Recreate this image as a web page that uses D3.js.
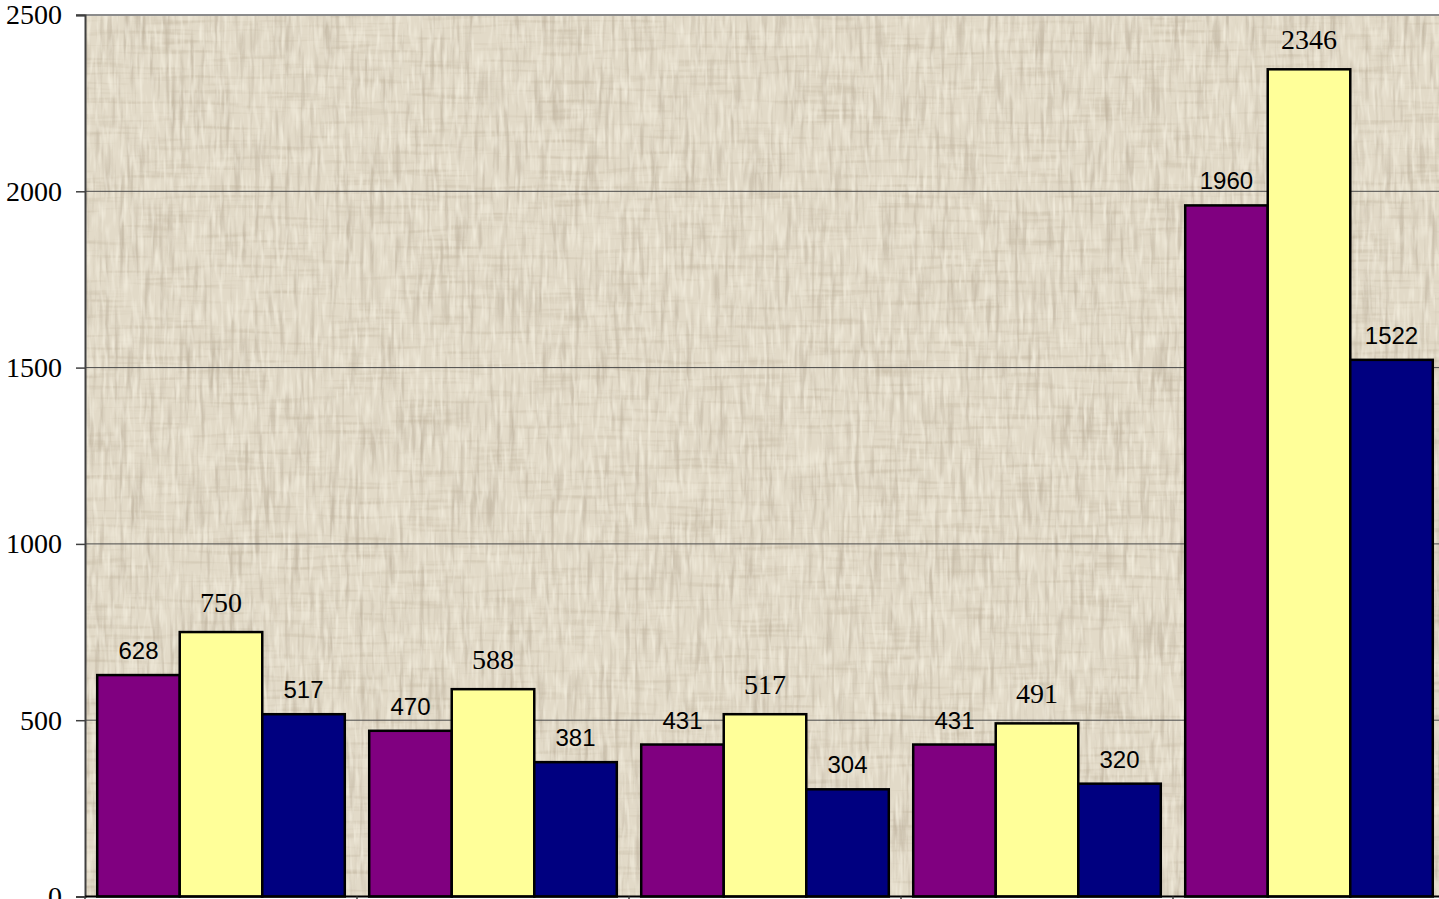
<!DOCTYPE html>
<html>
<head>
<meta charset="utf-8">
<script src="https://cdn.jsdelivr.net/npm/d3@7"></script>
<style>
  html, body { margin: 0; padding: 0; background: #ffffff; overflow: hidden; }
  svg { display: block; }
  .serif { font-family: "Liberation Serif", "Times New Roman", Times, serif; }
  .sans { font-family: "Liberation Sans", Arial, Helvetica, sans-serif; }
</style>
</head>
<body>
<svg id="chart" width="1439" height="899"></svg>
<script>
// Five groups, three series per group
const categories = ["A", "B", "C", "D", "E"];
const seriesPurple = [628, 470, 431, 431, 1960];
const seriesYellow = [750, 588, 517, 491, 2346];
const seriesNavy   = [517, 381, 304, 320, 1522];
const yTicks = [0, 500, 1000, 1500, 2000, 2500];

const series = [
  { key: "purple", values: seriesPurple, color: "#800080", cls: "sans",  size: 24, gap: 16 },
  { key: "yellow", values: seriesYellow, color: "#FFFF99", cls: "serif", size: 28, gap: 20 },
  { key: "navy",   values: seriesNavy,   color: "#000080", cls: "sans",  size: 24, gap: 16 }
];

const svg = d3.select("#chart");
const margin = { left: 85, top: 15 };
const plotW = 1360, plotH = 881.5;

const defs = svg.append("defs");
// Woven canvas texture for the plot background: vertical and horizontal fibres
const f = defs.append("filter").attr("id", "canvas")
  .attr("x", 0).attr("y", 0).attr("width", "100%").attr("height", "100%")
  .attr("color-interpolation-filters", "sRGB");
f.append("feFlood").attr("flood-color", "#e2dac8").attr("result", "base");
// vertical fibres (dark)
f.append("feTurbulence").attr("type", "fractalNoise")
  .attr("baseFrequency", "0.2 0.015").attr("numOctaves", 2).attr("seed", 4).attr("result", "nv");
f.append("feColorMatrix").attr("in", "nv").attr("type", "matrix")
  .attr("values", "0 0 0 0 0.70  0 0 0 0 0.65  0 0 0 0 0.57  -1.5 0 0 0 0.78")
  .attr("result", "vdark");
// horizontal fibres (dark)
f.append("feTurbulence").attr("type", "fractalNoise")
  .attr("baseFrequency", "0.015 0.2").attr("numOctaves", 2).attr("seed", 11).attr("result", "nh");
f.append("feColorMatrix").attr("in", "nh").attr("type", "matrix")
  .attr("values", "0 0 0 0 0.74  0 0 0 0 0.69  0 0 0 0 0.60  -1.3 0 0 0 0.62")
  .attr("result", "hdark");
// light highlights
f.append("feTurbulence").attr("type", "fractalNoise")
  .attr("baseFrequency", "0.25 0.04").attr("numOctaves", 2).attr("seed", 23).attr("result", "nl");
f.append("feColorMatrix").attr("in", "nl").attr("type", "matrix")
  .attr("values", "0 0 0 0 0.96  0 0 0 0 0.94  0 0 0 0 0.88  1.8 0 0 0 -0.82")
  .attr("result", "light");
f.append("feGaussianBlur").attr("in", "vdark").attr("stdDeviation", "0.4 0").attr("result", "vdarkS");
const merge = f.append("feMerge");
merge.append("feMergeNode").attr("in", "base");
merge.append("feMergeNode").attr("in", "vdarkS");
merge.append("feMergeNode").attr("in", "hdark");
merge.append("feMergeNode").attr("in", "light");

const x0 = d3.scaleBand().domain(categories).range([margin.left, margin.left + plotW]).paddingInner(0).paddingOuter(0);
const x1 = d3.scaleBand().domain(series.map(s => s.key)).range([0, x0.bandwidth()]).paddingOuter(0.148).paddingInner(0);
const y = d3.scaleLinear().domain([0, 2500]).range([margin.top + plotH, margin.top]);

// Plot background
svg.append("rect")
  .attr("x", margin.left).attr("y", margin.top)
  .attr("width", plotW).attr("height", plotH)
  .attr("fill", "#e2dac8")
  .attr("filter", "url(#canvas)");

// Horizontal gridlines
svg.append("g").selectAll("line")
  .data(yTicks.filter(t => t > 0 && t < 2500))
  .join("line")
  .attr("x1", margin.left).attr("x2", margin.left + plotW)
  .attr("y1", d => y(d)).attr("y2", d => y(d))
  .attr("stroke", "#4a4a4a").attr("stroke-width", 1);

// Top border
svg.append("line")
  .attr("x1", margin.left - 9).attr("x2", margin.left + plotW)
  .attr("y1", y(2500)).attr("y2", y(2500))
  .attr("stroke", "#8c8c8c").attr("stroke-width", 2);

// Bars
const groups = svg.append("g").selectAll("g")
  .data(categories)
  .join("g")
  .attr("transform", d => `translate(${x0(d)},0)`);

groups.selectAll("rect")
  .data((c, i) => series.map(s => ({ key: s.key, value: s.values[i], color: s.color })))
  .join("rect")
  .attr("x", d => x1(d.key))
  .attr("y", d => y(d.value))
  .attr("width", x1.bandwidth())
  .attr("height", d => y(0) - y(d.value))
  .attr("fill", d => d.color)
  .attr("stroke", "#000").attr("stroke-width", 2.5);

// Value labels
groups.selectAll("text")
  .data((c, i) => series.map(s => ({ key: s.key, value: s.values[i], cls: s.cls, size: s.size, gap: s.gap })))
  .join("text")
  .attr("class", d => d.cls)
  .attr("x", d => x1(d.key) + x1.bandwidth() / 2)
  .attr("y", d => y(d.value) - d.gap)
  .attr("text-anchor", "middle")
  .style("font-size", d => d.size + "px")
  .attr("fill", "#000")
  .text(d => d.value);

// Y axis
const yAxis = d3.axisLeft(y).tickValues(yTicks).tickSize(9).tickPadding(14).tickFormat(d3.format("d"));
const ya = svg.append("g").attr("transform", `translate(${margin.left},0)`).call(yAxis);
ya.attr("font-family", null).attr("font-size", null);
ya.select(".domain").attr("stroke", "#404040").attr("stroke-width", 2);
ya.selectAll(".tick line").attr("stroke", "#404040").attr("stroke-width", 1.5);
ya.selectAll(".tick text")
  .attr("class", "serif")
  .style("font-size", "28px").attr("fill", "#000");

// X axis with ticks at category boundaries
const xa = svg.append("g").attr("transform", `translate(0,${y(0)})`);
xa.append("line").attr("x1", margin.left).attr("x2", margin.left + plotW)
  .attr("stroke", "#000").attr("stroke-width", 2);
xa.selectAll("line.tk")
  .data(categories)
  .join("line").attr("class", "tk")
  .attr("x1", d => x0(d)).attr("x2", d => x0(d))
  .attr("y1", 0).attr("y2", 8)
  .attr("stroke", "#404040").attr("stroke-width", 1.5);
</script>
</body>
</html>
